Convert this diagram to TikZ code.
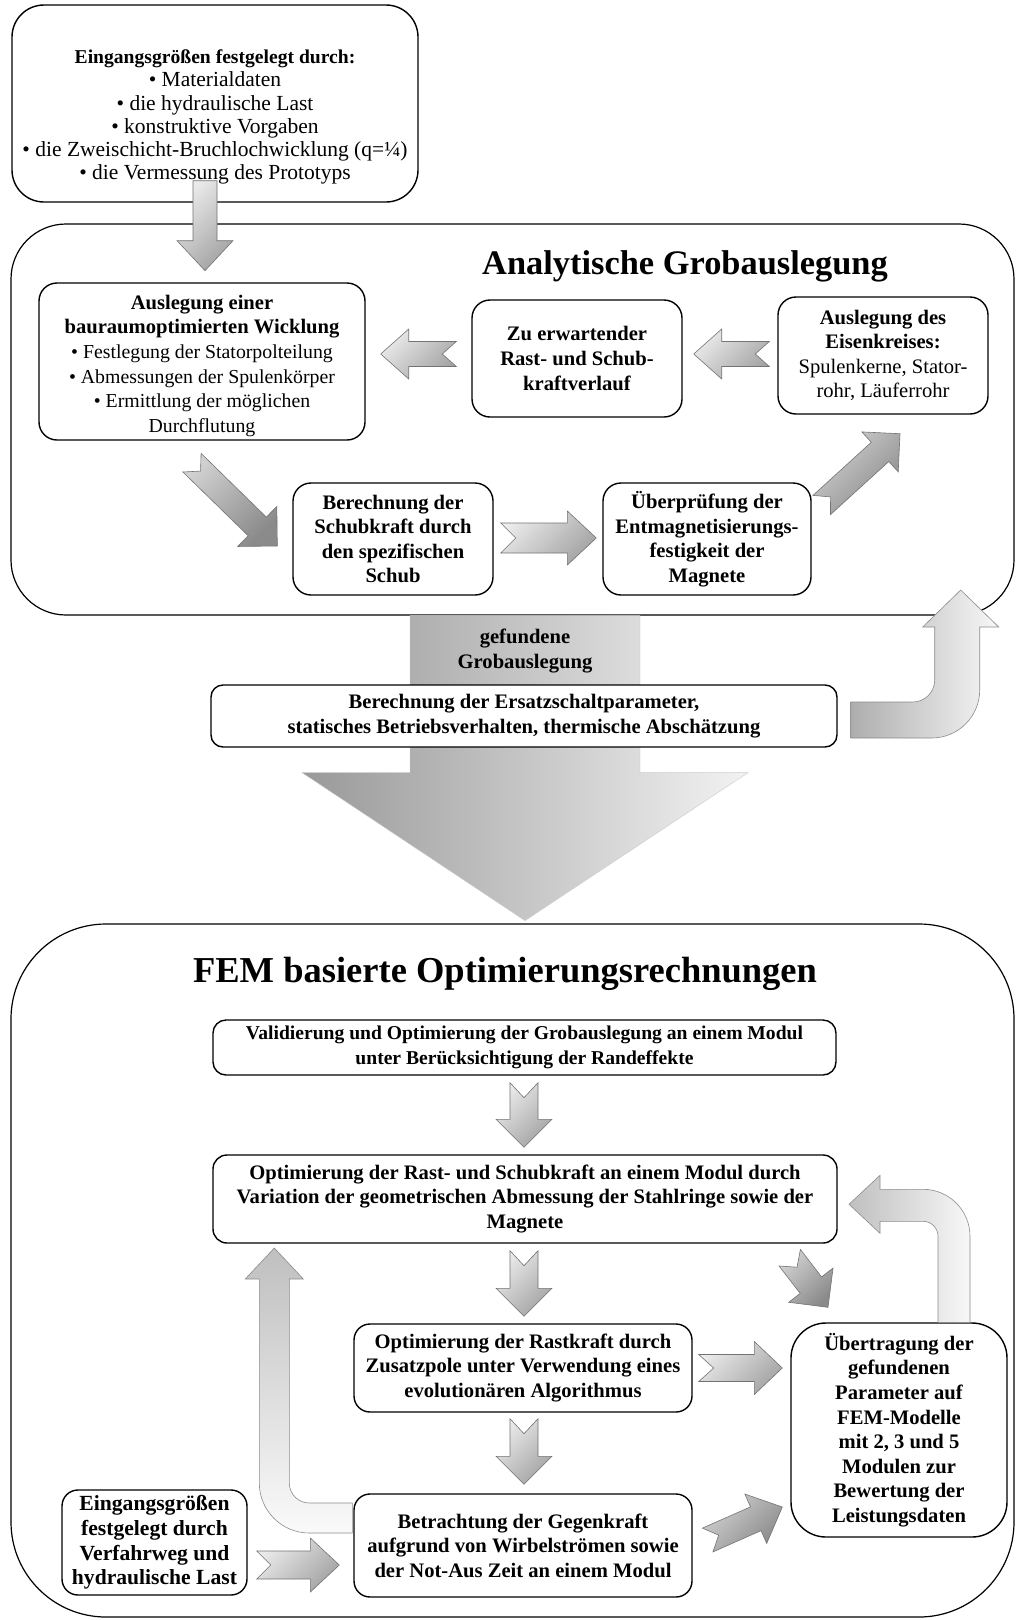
\documentclass[tikz,border=0pt]{standalone}
\usepackage{fontspec}
\setmainfont{Liberation Serif}
\usetikzlibrary{calc}
\tikzset{
  bigbox/.style={draw, line width=1.2pt, rounded corners=#1},
  bx/.style={draw, line width=1.4pt, fill=white, align=center, inner sep=1pt,
    font=\fontsize{20.6}{24.6}\selectfont\bfseries, rounded corners=#1},
  bx/.default=16pt,
  ttl/.style={font=\fontsize{#1}{#1}\selectfont\bfseries, inner sep=0pt},
  plaintext/.style={align=center, inner sep=0pt, font=\fontsize{20.6}{25}\selectfont\bfseries},
  blockarrow/.style={draw=black!55, line width=0.6pt, top color=black!8, bottom color=black!36, shading angle=45},
  darkarrow/.style={top color=black!18, bottom color=black!46, shading angle=45},
  bentarrow/.style={draw=black!45, line width=0.6pt},
  bigarrow/.style={draw=black!20, line width=0.4pt, left color=black!40, right color=black!5},
}
% notched block arrow: [style] {tail} {tip} {shaft half width} {head half width} {head length} {notch depth}
\newcommand{\blockarr}[7][]{%
  \coordinate (bT) at (#2);
  \coordinate (bP) at (#3);
  \coordinate (bH) at ($(bP)!#6!(bT)$);
  \coordinate (bN) at ($(bT)!#7!(bP)$);
  \path[blockarrow,#1] ($(bT)!#4!90:(bP)$) -- ($(bH)!#4!-90:(bT)$) -- ($(bH)!#5!-90:(bT)$) -- (bP)
     -- ($(bH)!#5!90:(bT)$) -- ($(bH)!#4!90:(bT)$) -- ($(bT)!#4!-90:(bP)$) -- (bN) -- cycle;
}
\begin{document}
\begin{tikzpicture}[x=1pt,y=-1pt]
\useasboundingbox (0,0) rectangle (1016,1620);
\fill[white] (0,0) rectangle (1016,1620);

% group frames
\node[bigbox=55pt, minimum width=1003pt, minimum height=391pt] (g1) at (512.5,419.5) {};
\node[bigbox=95pt, minimum width=1003pt, minimum height=693pt] (g2) at (512.5,1270.5) {};

% big arrow between the groups
\path[bigarrow] ($(g1.south)+(-102.5,0)$) -- ++(230,0) -- ++(0,157) -- ++(108,0) -- ++(-223,148)
   -- ++(-223,-148) -- ++(108,0) -- cycle;

% top input box
\node[bx=32pt, minimum width=406pt, minimum height=197pt, font=\fontsize{21.5}{23.2}\selectfont] (in) at (215,103.5)
 {\rule{0pt}{41pt}{\fontsize{19.6}{23.2}\selectfont\bfseries Eingangsgrößen festgelegt durch:}\\• Materialdaten\\• die hydraulische Last\\• konstruktive Vorgaben\\• die Zweischicht-Bruchlochwicklung (q=¼)\\• die Vermessung des Prototyps};

% group 1
\node[ttl=34.4] (t1) at (685,266.5) {Analytische Grobauslegung};
\node[bx=18pt, minimum width=326pt, minimum height=157pt] (A) at (202,361.5)
 {\rule{0pt}{23pt}Auslegung einer\\bauraumoptimierten Wicklung\\{\fontsize{19.8}{24.6}\selectfont\mdseries • Festlegung der Statorpolteilung}\\{\fontsize{19.8}{24.6}\selectfont\mdseries • Abmessungen der Spulenkörper}\\{\fontsize{19.8}{24.6}\selectfont\mdseries • Ermittlung der möglichen}\\{\fontsize{19.8}{24.6}\selectfont\mdseries Durchflutung}};
\node[bx=18pt, minimum width=210pt, minimum height=117pt] (B) at (577,358.5)
 {Zu erwartender\\Rast- und Schub-\\kraftverlauf};
\node[bx=18pt, minimum width=210pt, minimum height=117pt] (C) at (883,355.5)
 {Auslegung des\\Eisenkreises:\\\textmd{Spulenkerne, Stator-}\\\textmd{rohr, Läuferrohr}};
\node[bx=18pt, minimum width=200pt, minimum height=112pt] (D) at (393,539)
 {Berechnung der\\Schubkraft durch\\den spezifischen\\Schub};
\node[bx=18pt, minimum width=208pt, minimum height=112pt] (E) at (707,539)
 {Überprüfung der\\Entmagnetisierungs-\\festigkeit der\\Magnete};

% middle zone
\node[plaintext] (found) at (525,651) {gefundene\\Grobauslegung};
\node[bx=12pt, minimum width=626pt, minimum height=62pt] (ersatz) at (524,716)
 {Berechnung der Ersatzschaltparameter,\\statisches Betriebsverhalten, thermische Abschätzung};

% group 2
\node[ttl=36.5] (t2) at (505,974) {FEM basierte Optimierungsrechnungen};
\node[bx=13pt, minimum width=623pt, minimum height=55pt, font=\fontsize{19.6}{24.6}\selectfont\bfseries] (valid) at (524.5,1047.5)
 {Validierung und Optimierung der Grobauslegung an einem Modul\\unter Berücksichtigung der Randeffekte};
\node[bx=14pt, minimum width=624pt, minimum height=88pt] (opt) at (525,1199)
 {Optimierung der Rast- und Schubkraft an einem Modul durch\\Variation der geometrischen Abmessung der Stahlringe sowie der\\Magnete};
\node[bx=16pt, minimum width=338pt, minimum height=88pt] (rast) at (523,1368)
 {Optimierung der Rastkraft durch\\Zusatzpole unter Verwendung eines\\evolutionären Algorithmus};
\node[bx=16pt, minimum width=338pt, minimum height=103pt] (betr) at (523,1545.5)
 {Betrachtung der Gegenkraft\\aufgrund von Wirbelströmen sowie\\der Not-Aus Zeit an einem Modul};
\node[bx=16pt, minimum width=185pt, minimum height=105pt, font=\fontsize{21.6}{24.6}\selectfont\bfseries] (eing) at (154.5,1542.5)
 {Eingangsgrößen\\festgelegt durch\\Verfahrweg und\\hydraulische Last};
\node[bx=35pt, minimum width=216pt, minimum height=214pt] (uebertr) at (899,1430)
 {Übertragung der\\gefundenen\\Parameter auf\\FEM-Modelle\\mit 2, 3 und 5\\Modulen zur\\Bewertung der\\Leistungsdaten};

% straight block arrows
\blockarr{$(in.south)+(-10,-22)$}{$(in.south)+(-10,68)$}{12pt}{28pt}{30pt}{0pt}
\blockarr{$(B.west)+(-15,-4.5)$}{$(A.east)+(15,-7.5)$}{12.5pt}{25pt}{28pt}{14pt}
\blockarr{$(C.west)+(-8,-1.5)$}{$(B.east)+(11,-4.5)$}{12.5pt}{25pt}{28pt}{14pt}
\blockarr[darkarrow]{$(A.south)+(-10,22)$}{$(D.west)+(-15,7)$}{13pt}{28pt}{28pt}{12pt}
\blockarr{$(D.east)+(7,-1)$}{$(E.west)+(-6,-1)$}{15pt}{27pt}{29pt}{15pt}
\blockarr[darkarrow]{$(E.east)+(10,-34)$}{$(C.south)+(17,19)$}{13pt}{27pt}{27pt}{12pt}
\blockarr{$(valid.south)+(-0.5,7)$}{$(opt.north)+(-1,-7)$}{14pt}{28pt}{28pt}{15pt}
\blockarr{$(opt.south)+(-1,7)$}{$(rast.north)+(1,-7)$}{14pt}{28pt}{28pt}{15pt}
\blockarr{$(rast.south)+(1,6)$}{$(betr.north)+(1,-9)$}{14pt}{28pt}{28pt}{15pt}
\blockarr{$(eing.east)+(9,22.5)$}{$(betr.west)+(-14,19.5)$}{14pt}{27pt}{29pt}{14pt}
\blockarr{$(rast.east)+(6,0)$}{$(uebertr.west)+(-8,-62)$}{13.5pt}{26.5pt}{28pt}{15pt}
\blockarr[darkarrow]{$(betr.east)+(15,-5.5)$}{$(uebertr.west)+(-8,77)$}{13pt}{27pt}{29pt}{12pt}
\blockarr[darkarrow]{$(opt.south east)+(-48,14)$}{$(uebertr.north)+(-71,-15)$}{13.5pt}{28pt}{28pt}{12pt}

% bent arrows
\begin{scope}[shift={($(ersatz.east)+(-837,-716)$)}]
\path[bentarrow, left color=black!32, right color=black!3] (850,702) -- (912,702)
  .. controls (924.2,702) and (934,692.2) .. (934,680) -- (934,627) -- (922,627) -- (960,590)
  -- (998,627) -- (979,627) -- (979,690) .. controls (979,716.5) and (957.5,738) .. (931,738)
  -- (850,738) -- cycle;
\end{scope}
\begin{scope}[shift={($(betr.west)+(-354,-1545.5)$)}]
\path[bentarrow, top color=black!25, bottom color=black!2] (353,1503) -- (310,1503)
  .. controls (299,1503) and (290,1494) .. (290,1483) -- (290,1279) -- (304,1279) -- (275,1248)
  -- (246,1279) -- (260,1279) -- (260,1483) .. controls (260,1510.6) and (282.4,1533) .. (310,1533)
  -- (353,1533) -- cycle;
\end{scope}
\begin{scope}[shift={($(uebertr.north)+(-899,-1323)$)}]
\path[bentarrow, left color=black!25, right color=black!3] (938,1323) -- (938,1237)
  .. controls (938,1228.7) and (931.3,1222) .. (923,1222) -- (880,1222) -- (880,1234) -- (849,1205)
  -- (880,1176) -- (880,1190) -- (923,1190) .. controls (949,1190) and (970,1211) .. (970,1237)
  -- (970,1323) -- cycle;
\end{scope}
\end{tikzpicture}
\end{document}
